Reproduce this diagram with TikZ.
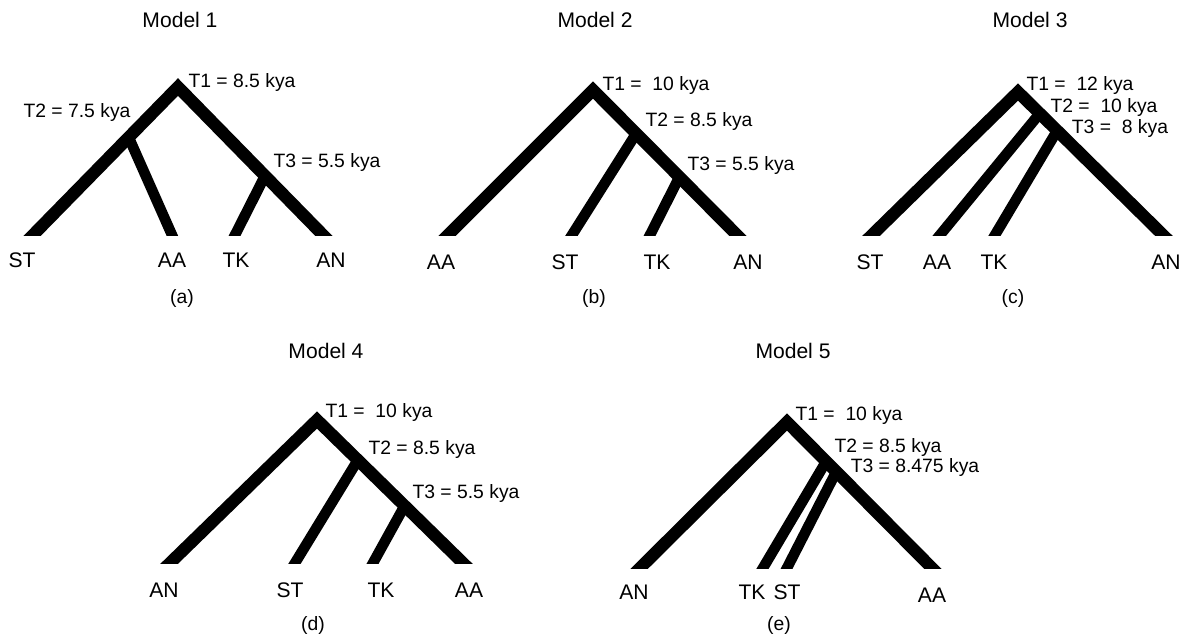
\documentclass[tikz,border=0pt]{standalone}
\usepackage{fontspec}
\setmainfont{Liberation Sans}
\usetikzlibrary{calc}

\begin{document}
\begin{tikzpicture}[x=0.02cm,y=-0.02cm,
		br/.style={line width=7pt,line join=miter,shorten <=-8pt,shorten >=-8pt},
		sb/.style={line width=6pt,shorten >=-8pt},
		tl/.style={inner sep=0pt,font=\fontsize{11}{13}\selectfont},
		lf/.style={inner sep=0pt,font=\fontsize{12}{14}\selectfont},
		ttl/.style={inner sep=0pt,font=\fontsize{12}{14}\selectfont},
		sub/.style={inner sep=0pt,font=\fontsize{11}{13}\selectfont}
		]
		
		\useasboundingbox (0,0) rectangle (1184,636);
		
		% Model 1
		\coordinate (a st) at (33,235);
		\coordinate (a top) at (178,87);
		\coordinate (a an) at (323,235);
		\coordinate (a t2) at ($(a st)!0.66!(a top)$);
		\coordinate (a t3) at ($(a top)!0.6!(a an)$);
		\coordinate (a aa) at (172,235);
		\coordinate (a tk) at (235,235);
		
		% Model 2
		\coordinate (b aa) at (448,235);
		\coordinate (b top) at (593,90);
		\coordinate (b an) at (737,235);
		\coordinate (b t2) at ($(b top)!0.3!(b an)$);
		\coordinate (b t3) at ($(b top)!0.6!(b an)$);
		\coordinate (b st) at (572,235);
		\coordinate (b tk) at (650,235);
		
		% Model 3
		\coordinate (c st) at (872,235);
		\coordinate (c top) at (1018,92);
		\coordinate (c an) at (1163,235);
		\coordinate (c t2) at ($(c top)!0.15!(c an)$);
		\coordinate (c t3) at ($(c top)!0.27!(c an)$);
		\coordinate (c aa) at (940,235);
		\coordinate (c tk) at (995,235);
		
		% Model 4
		\coordinate (d an) at (170,563);
		\coordinate (d top) at (317,420);
		\coordinate (d aa) at (463,563);
		\coordinate (d t2) at ($(d top)!0.28!(d aa)$);
		\coordinate (d t3) at ($(d top)!0.6!(d aa)$);
		\coordinate (d st) at (295,563);
		\coordinate (d tk) at (373,563);
		
		% Model 5
		\coordinate (e an) at (640,568);
		\coordinate (e top) at (787,422);
		\coordinate (e aa) at (932,568);
		\coordinate (e t2) at ($(e top)!0.27!(e aa)$);
		\coordinate (e t3) at ($(e top)!0.34!(e aa)$);
		\coordinate (e tk) at (763,568);
		\coordinate (e st) at (787,568);
		
		\begin{scope}
			\clip (0,0) rectangle (1184,235);
			\draw [br] (a st) -- (a top) -- (a an);
			\draw [sb] (a t2) -- (a aa);
			\draw [sb] (a t3) -- (a tk);
			\draw [br] (b aa) -- (b top) -- (b an);
			\draw [sb] (b t2) -- (b st);
			\draw [sb] (b t3) -- (b tk);
			\draw [br] (c st) -- (c top) -- (c an);
			\draw [sb] (c t2) -- (c aa);
			\draw [sb] (c t3) -- (c tk);
		\end{scope}
		\begin{scope}
			\clip (0,300) rectangle (560,563);
			\draw [br] (d an) -- (d top) -- (d aa);
			\draw [sb] (d t2) -- (d st);
			\draw [sb] (d t3) -- (d tk);
		\end{scope}
		\begin{scope}
			\clip (560,300) rectangle (1184,568);
			\draw [br] (e an) -- (e top) -- (e aa);
			\draw [sb] (e t2) -- (e tk);
			\draw [sb] (e t3) -- (e st);
		\end{scope}
		
		% titles
		\node [ttl] (title a) at (180,20) {Model 1};
		\node [ttl] (title b) at (595,20) {Model 2};
		\node [ttl] (title c) at (1030,20) {Model 3};
		\node [ttl] (title d) at (326,351) {Model 4};
		\node [ttl] (title e) at (793,351) {Model 5};
		
		% split times
		\node [tl] (a t1 text) at (242,83) {T1 = 8.5 kya};
		\node [tl] (a t2 text) at (77,113) {T2 = 7.5 kya};
		\node [tl] (a t3 text) at (327,163) {T3 = 5.5 kya};
		\node [tl] (b t1 text) at (656,85) {T1 =\ \ 10 kya};
		\node [tl] (b t2 text) at (699,122) {T2 = 8.5 kya};
		\node [tl] (b t3 text) at (741,165) {T3 = 5.5 kya};
		\node [tl] (c t1 text) at (1080,85) {T1 =\ \ 12 kya};
		\node [tl] (c t2 text) at (1104,107) {T2 =\ \ 10 kya};
		\node [tl] (c t3 text) at (1120,128) {T3 =\ \ 8 kya};
		\node [tl] (d t1 text) at (379,412) {T1 =\ \ 10 kya};
		\node [tl] (d t2 text) at (422,449) {T2 = 8.5 kya};
		\node [tl] (d t3 text) at (466,493) {T3 = 5.5 kya};
		\node [tl] (e t1 text) at (849,415) {T1 =\ \ 10 kya};
		\node [tl] (e t2 text) at (888,447) {T2 = 8.5 kya};
		\node [tl] (e t3 text) at (915,467) {T3 = 8.475 kya};
		
		% populations
		\node [lf] (a st text) at (22,260) {ST};
		\node [lf] (a aa text) at (172,260) {AA};
		\node [lf] (a tk text) at (236,260) {TK};
		\node [lf] (a an text) at (331,260) {AN};
		\node [lf] (b aa text) at (441,262) {AA};
		\node [lf] (b st text) at (565,262) {ST};
		\node [lf] (b tk text) at (657,262) {TK};
		\node [lf] (b an text) at (748,262) {AN};
		\node [lf] (c st text) at (870,262) {ST};
		\node [lf] (c aa text) at (937,262) {AA};
		\node [lf] (c tk text) at (994,262) {TK};
		\node [lf] (c an text) at (1166,262) {AN};
		\node [lf] (d an text) at (164,590) {AN};
		\node [lf] (d st text) at (290,590) {ST};
		\node [lf] (d tk text) at (381,590) {TK};
		\node [lf] (d aa text) at (469,590) {AA};
		\node [lf] (e an text) at (634,592) {AN};
		\node [lf] (e tk text) at (752,592) {TK};
		\node [lf] (e st text) at (787,592) {ST};
		\node [lf] (e aa text) at (932,595) {AA};
		
		% panel letters
		\node [sub] (sub a) at (182,298) {(a)};
		\node [sub] (sub b) at (594,298) {(b)};
		\node [sub] (sub c) at (1013,298) {(c)};
		\node [sub] (sub d) at (313,625) {(d)};
		\node [sub] (sub e) at (779,625) {(e)};
		
	\end{tikzpicture}
\end{document}
